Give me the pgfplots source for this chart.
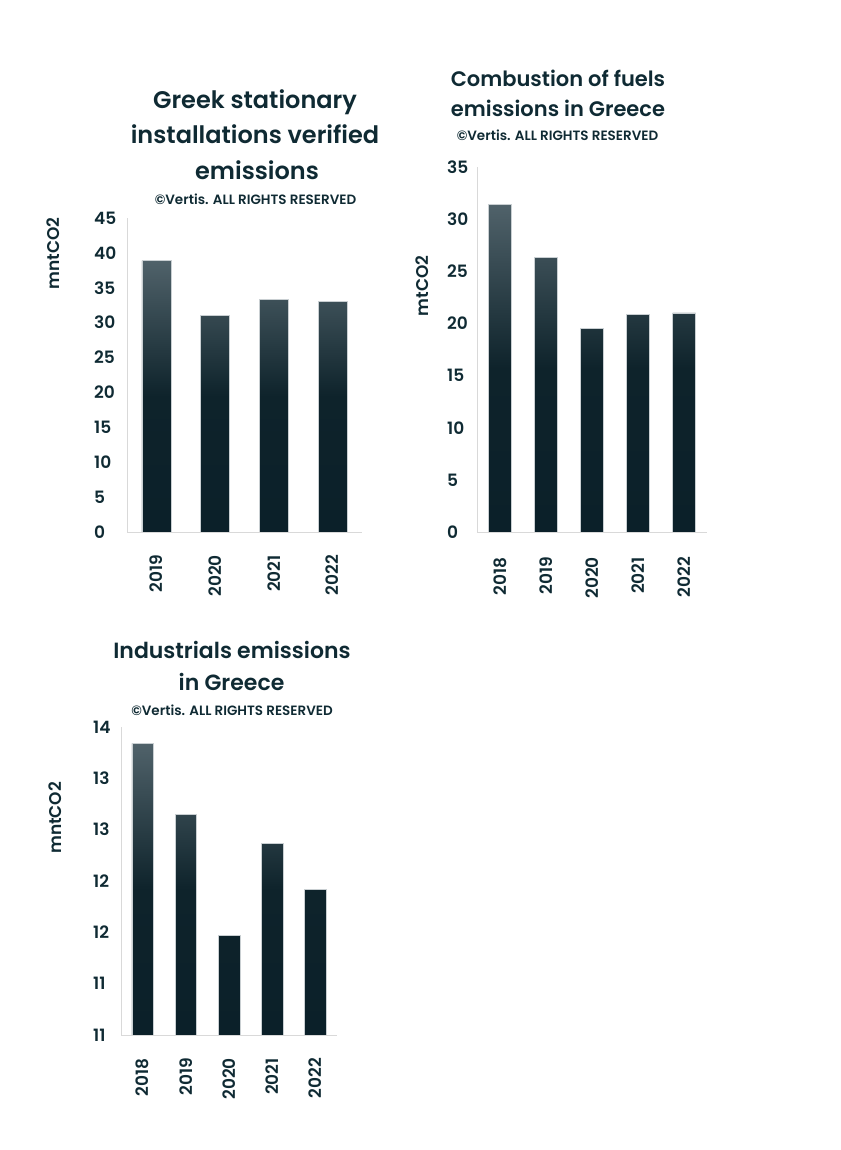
\documentclass[border=0pt]{standalone}
\usepackage{fontspec}
\setmainfont{Poppins}[BoldFont={Poppins SemiBold}]
\usepackage{pgfplots}
\pgfplotsset{compat=1.18}

\definecolor{ink}{HTML}{0F2A33}
\definecolor{barTop}{HTML}{50626A}
\definecolor{barMid}{HTML}{0E232B}
\definecolor{barBot}{HTML}{0B2029}
\definecolor{axisgray}{HTML}{D9D9D9}
\definecolor{baredge}{HTML}{C9CFD2}

\newcommand{\fs}[1]{\fontsize{#1}{#1}\selectfont}

\pgfplotsset{
  vertisbars/.style={
    scale only axis,
    ybar,
    axis x line*=bottom,
    axis y line*=left,
    axis line style={draw=axisgray, line width=0.8pt},
    major tick length=0pt,
    xtick=data,
    ymin=0,
    /pgf/number format/assume math mode=true,
    tick label style={font=\bfseries\fs{17}, text=ink, inner sep=0pt},
    xticklabel style={rotate=90, anchor=east},
    xticklabel shift=23pt,
    yticklabel style={anchor=west},
    ylabel style={font=\bfseries\fs{17}, text=ink, inner sep=0pt},
  },
  shadedbar/.style={
    draw=baredge, line width=0.5pt,
    top color=barTop, bottom color=barBot, middle color=barMid,
  },
}

\pgfplotstableread{
x year value
0 2019 38.9
1 2020 31.0
2 2021 33.3
3 2022 33.0
}\stationary

\pgfplotstableread{
x year value
0 2018 31.4
1 2019 26.3
2 2020 19.5
3 2021 20.9
4 2022 21.0
}\combustion

\pgfplotstableread{
x year value
0 2018 13.34
1 2019 12.65
2 2020 11.47
3 2021 12.37
4 2022 11.92
}\industrials

\begin{document}
\begin{tikzpicture}
\path[use as bounding box] (0,0) rectangle (840pt,1150pt);

% Greek stationary installations
\begin{axis}[vertisbars,
  at={(127pt,618pt)}, anchor=south west,
  width=235pt, height=314pt,
  bar width=29pt,
  xmin=-0.5, xmax=3.5,
  ymax=45, ytick={0,5,...,45},
  yticklabel shift=33pt,
  xticklabels={2019,2020,2021,2022},
  ylabel={mntCO2},
  ylabel style={at={(axis description cs:-0.340,0.888)}, anchor=north},
]
\addplot[shadedbar] table[x=x, y=value] {\stationary};
\end{axis}

% Combustion of fuels
\begin{axis}[vertisbars,
  at={(477pt,618pt)}, anchor=south west,
  width=230pt, height=365pt,
  bar width=23pt,
  xmin=-0.5, xmax=4.5,
  ymax=35, ytick={0,5,...,35},
  yticklabel shift=30pt,
  xticklabels={2018,2019,2020,2021,2022},
  xticklabel shift=25pt,
  ylabel={mtCO2},
  ylabel style={at={(axis description cs:-0.267,0.674)}, anchor=north},
]
\addplot[shadedbar] table[x=x, y=value] {\combustion};
\end{axis}

% Industrials
\begin{axis}[vertisbars,
  at={(121pt,115pt)}, anchor=south west,
  width=216pt, height=308pt,
  bar width=21.5pt,
  xmin=-0.5, xmax=4.5,
  ymin=10.5, ymax=13.5,
  ytick={10.5,11,11.5,12,12.5,13,13.5},
  yticklabels={11,11,12,12,13,13,14},
  yticklabel shift=28pt,
  xticklabels={2018,2019,2020,2021,2022},
  ylabel={mntCO2},
  ylabel style={at={(axis description cs:-0.337,0.705)}, anchor=north},
]
\addplot[shadedbar] table[x=x, y=value] {\industrials};
\end{axis}

% Titles
\begin{scope}[every node/.style={text=ink, inner sep=0pt, anchor=base}]
\node[font=\bfseries\fs{24}] at (255pt,{1150pt-108.3pt}) {Greek stationary};
\node[font=\bfseries\fs{24}] at (255pt,{1150pt-144pt}) {installations verified};
\node[font=\bfseries\fs{24}] at (257pt,{1150pt-180pt}) {emissions};
\node[font=\bfseries\fs{13.5}] at (255.5pt,{1150pt-205pt}) {©Vertis. ALL RIGHTS RESERVED};

\node[font=\bfseries\fs{21}] at (558pt,{1150pt-87pt}) {Combustion of fuels};
\node[font=\bfseries\fs{21}] at (558pt,{1150pt-117pt}) {emissions in Greece};
\node[font=\bfseries\fs{13.5}] at (557.5pt,{1150pt-140.3pt}) {©Vertis. ALL RIGHTS RESERVED};

\node[font=\bfseries\fs{22}] at (232pt,{1150pt-658.3pt}) {Industrials emissions};
\node[font=\bfseries\fs{22}] at (231.5pt,{1150pt-691pt}) {in Greece};
\node[font=\bfseries\fs{13.5}] at (232pt,{1150pt-715.7pt}) {©Vertis. ALL RIGHTS RESERVED};
\end{scope}
\end{tikzpicture}
\end{document}
